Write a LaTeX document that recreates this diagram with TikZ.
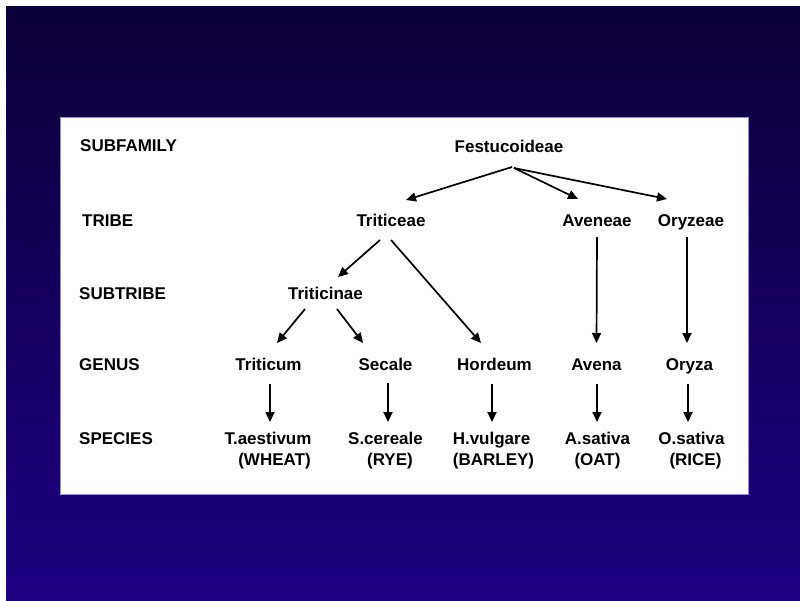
\documentclass[tikz,border=0pt]{standalone}
\usepackage{fontspec}
\setmainfont{Liberation Sans}
\usetikzlibrary{arrows.meta}
\definecolor{bgtop}{RGB}{12,0,56}
\definecolor{bgbot}{RGB}{28,0,130}
\definecolor{panelborder}{RGB}{150,140,210}
\begin{document}
\begin{tikzpicture}[x=1pt,y=-1pt,
  every node/.style={font=\fontsize{17}{21.5}\selectfont\bfseries, inner sep=0pt},
  rowlabel/.style={anchor=base west},
  taxon/.style={anchor=base},
  link/.style={line width=1.7pt, -{Triangle[length=10pt,width=9pt]}}]
\useasboundingbox (0,0) rectangle (800,600);
\fill[white] (0,0) rectangle (800,600);
\shade[top color=bgtop,bottom color=bgbot] (6,6) rectangle (800,600);
\draw[panelborder, line width=1pt, fill=white] (60.5,117) rectangle (748.5,494.5);

% row labels
\node[rowlabel] (lsub)   at (80,151.5) {SUBFAMILY};
\node[rowlabel] (ltribe) at (82,226)   {TRIBE};
\node[rowlabel] (lsubt)  at (79,299)   {SUBTRIBE};
\node[rowlabel] (lgen)   at (79,370.5) {GENUS};
\node[rowlabel] (lspec)  at (79,444)   {SPECIES};

% taxa
\node[taxon] (fest) at (509,152)   {Festucoideae};
\node[taxon] (trib) at (391,226)   {Triticeae};
\node[taxon] (aven) at (597,226)   {Aveneae};
\node[taxon] (oryz) at (691,226)   {Oryzeae};
\node[taxon] (tcin) at (325.5,299) {Triticinae};
\node[taxon] (gtri) at (268.5,370.5) {Triticum};
\node[taxon] (gsec) at (385.5,370.5) {Secale};
\node[taxon] (ghor) at (494.5,370.5) {Hordeum};
\node[taxon] (gave) at (596.5,370.5) {Avena};
\node[taxon] (gory) at (689.5,370.5) {Oryza};

\node[taxon] (stri) at (268,444)   {\begin{tabular}[t]{@{}c@{}}T.aestivum\\\hspace*{13pt}(WHEAT)\end{tabular}};
\node[taxon] (ssec) at (385.5,444) {\begin{tabular}[t]{@{}c@{}}S.cereale\\\hspace*{9pt}(RYE)\end{tabular}};
\node[taxon] (shor) at (491.5,444) {\begin{tabular}[t]{@{}c@{}}H.vulgare\\\hspace*{4pt}(BARLEY)\end{tabular}};
\node[taxon] (save) at (597.5,444) {\begin{tabular}[t]{@{}c@{}}A.sativa\\(OAT)\end{tabular}};
\node[taxon] (sory) at (691.5,444) {\begin{tabular}[t]{@{}c@{}}O.sativa\\\hspace*{8pt}(RICE)\end{tabular}};

% connectors
\draw[link] ([shift={(3,15)}]fest.base) -- ([shift={(15,-26)}]trib.base);
\draw[link] ([shift={(5,16)}]fest.base) -- ([shift={(-19,-27)}]aven.base);
\draw[link] ([shift={(5,16)}]fest.base) -- ([shift={(-24,-27)}]oryz.base);
\draw[link] ([shift={(-11,14)}]trib.base) -- ([shift={(12.5,-22)}]tcin.base);
\draw[link] ([shift={(0,14)}]trib.base) -- ([shift={(-13.5,-27.5)}]ghor.base);
\draw[link] ([shift={(0,11)}]aven.base) -- ([shift={(0,-27.5)}]gave.base);
\draw[link] ([shift={(-4,11)}]oryz.base) -- ([shift={(-2.5,-27.5)}]gory.base);
\draw[link] ([shift={(-20.5,10)}]tcin.base) -- ([shift={(8.5,-27.5)}]gtri.base);
\draw[link] ([shift={(11.5,10)}]tcin.base) -- ([shift={(-22.5,-27.5)}]gsec.base);
\draw[link] ([shift={(1.5,13.5)}]gtri.base) -- ([shift={(2,-22)}]stri.base);
\draw[link] ([shift={(2.5,12.5)}]gsec.base) -- ([shift={(2.5,-22)}]ssec.base);
\draw[link] ([shift={(-2.5,13.5)}]ghor.base) -- ([shift={(0.5,-22)}]shor.base);
\draw[link] ([shift={(0.5,13.5)}]gave.base) -- ([shift={(-0.5,-22)}]save.base);
\draw[link] ([shift={(-1.5,13)}]gory.base) -- ([shift={(-3.5,-22)}]sory.base);
\end{tikzpicture}
\end{document}
